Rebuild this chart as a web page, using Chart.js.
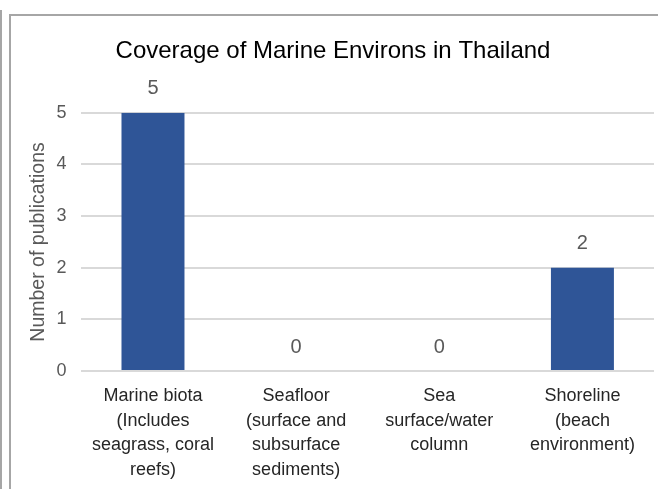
<!DOCTYPE html>
<html>
<head>
<meta charset="utf-8">
<script src="https://cdn.jsdelivr.net/npm/chart.js@4.4.0/dist/chart.umd.min.js"></script>
<style>
  html, body { margin: 0; padding: 0; background: #fff; }
  #wrap { position: relative; width: 658px; height: 489px; overflow: hidden; }
  #c { position: absolute; left: 0; top: 0; }
  .ln { position: absolute; background: #a6a6a6; }
</style>
</head>
<body>
<div id="wrap">
  <div class="ln" style="left:0px; top:10px; width:2px; height:479px;"></div>
  <div class="ln" style="left:9px; top:14px; width:2px; height:475px;"></div>
  <div class="ln" style="left:9px; top:14px; width:649px; height:2px;"></div>
  <canvas id="c" width="658" height="489"></canvas>
</div>
<script>
const categories = [
  ["Marine biota", "(Includes", "seagrass, coral", "reefs)"],
  ["Seafloor", "(surface and", "subsurface", "sediments)"],
  ["Sea", "surface/water", "column"],
  ["Shoreline", "(beach", "environment)"]
];
const publications = [5, 0, 0, 2];
const yTicks = [0, 1, 2, 3, 4, 5];

const FONT = "'Liberation Sans', Arial, sans-serif";

const valueLabels = {
  id: 'valueLabels',
  afterDatasetsDraw(chart) {
    const ctx = chart.ctx;
    const meta = chart.getDatasetMeta(0);
    ctx.save();
    ctx.font = "20px " + FONT;
    ctx.fillStyle = "#595959";
    ctx.textAlign = "center";
    ctx.textBaseline = "bottom";
    meta.data.forEach((bar, i) => {
      ctx.fillText(String(publications[i]), bar.x, bar.y - 14);
    });
    ctx.restore();
  }
};

new Chart(document.getElementById('c'), {
  type: 'bar',
  data: {
    labels: categories,
    datasets: [{
      data: publications,
      backgroundColor: '#2F5597',
      borderWidth: 0,
      categoryPercentage: 1.0,
      barPercentage: 0.44
    }]
  },
  options: {
    responsive: false,
    animation: false,
    devicePixelRatio: 1,
    layout: { padding: { left: 12, right: 4, top: 0, bottom: -6 } },
    plugins: {
      legend: { display: false },
      tooltip: { enabled: false },
      title: {
        display: true,
        text: 'Coverage of Marine Environs in Thailand',
        color: '#000000',
        font: { family: FONT, size: 24, weight: 'normal' },
        padding: { top: 37, bottom: 47 }
      }
    },
    scales: {
      x: {
        grid: { display: false, drawTicks: false },
        border: { display: false },
        ticks: {
          color: '#262626',
          font: { family: FONT, size: 18, lineHeight: 1.36 },
          maxRotation: 0,
          autoSkip: false,
          padding: 13
        }
      },
      y: {
        min: 0,
        max: 5,
        afterBuildTicks(axis) { axis.ticks = yTicks.map(v => ({ value: v })); },
        grid: { color: '#d9d9d9', lineWidth: 2, drawTicks: false },
        border: { display: false },
        ticks: {
          color: '#595959',
          font: { family: FONT, size: 18 },
          padding: 15
        },
        title: {
          display: true,
          text: 'Number of publications',
          color: '#595959',
          font: { family: FONT, size: 19.5, weight: 'normal' },
          padding: { top: 15, bottom: -9 }
        }
      }
    }
  },
  plugins: [valueLabels]
});
</script>
</body>
</html>
